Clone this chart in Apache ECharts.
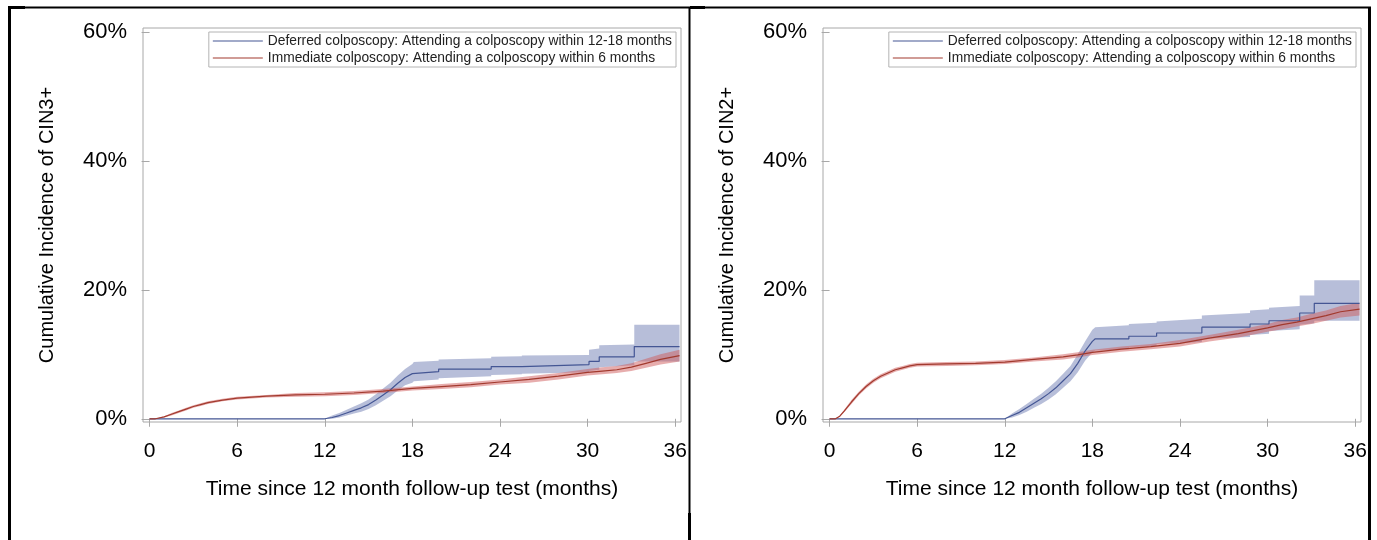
<!DOCTYPE html>
<html>
<head>
<meta charset="utf-8">
<script src="https://cdn.jsdelivr.net/npm/echarts@6/dist/echarts.min.js"></script>
<style>
html, body { margin: 0; padding: 0; background: #fff; }
#chart { width: 1377px; height: 540px; }
</style>
</head>
<body>
<div id="chart"></div>
<script>
// series names
var defName = 'Deferred colposcopy: Attending a colposcopy within 12-18 months';
var immName = 'Immediate colposcopy: Attending a colposcopy within 6 months';

// tick values
var xTicks = [0, 6, 12, 18, 24, 30, 36];
var yTicks = [0, 20, 40, 60];

// left panel: CIN3+, deferred (blue) - repeated times are the vertical steps
var cin3DefT   = [0, 12, 12.5, 13, 13.5, 14, 14.5, 15, 15.5, 16, 16.5, 17, 17.5, 18, 18.1, 19.8, 19.8, 23.4, 23.4, 25.5, 25.5, 30.1, 30.1, 30.8, 30.8, 33.2, 33.2, 36.3];
var cin3DefEst = [0, 0, 0.2, 0.5, 0.9, 1.3, 1.7, 2.2, 2.9, 3.7, 4.5, 5.5, 6.4, 7.0, 7.3, 7.3, 7.7, 7.7, 8.1, 8.1, 8.4, 8.4, 8.9, 8.9, 9.6, 9.6, 11.2, 11.2];
var cin3DefLo  = [0, 0, 0.0, 0.2, 0.5, 0.8, 1.1, 1.5, 2.1, 2.8, 3.5, 4.4, 5.2, 5.6, 5.8, 6.1, 6.3, 6.6, 6.8, 6.9, 7.0, 7.2, 7.4, 7.6, 8.0, 8.3, 8.9, 8.9];
var cin3DefHi  = [0, 0, 0.5, 0.9, 1.4, 1.9, 2.4, 3.0, 3.8, 4.7, 5.6, 6.7, 7.7, 8.5, 8.8, 9.0, 9.2, 9.4, 9.6, 9.7, 9.8, 9.9, 10.7, 10.9, 11.4, 11.5, 14.6, 14.6];

// left panel: CIN3+, immediate (red)
var cin3ImmT   = [0, 0.4, 1, 1.5, 2, 2.5, 3, 3.5, 4, 5, 6, 8, 10, 12, 14, 16, 18, 20, 22, 24, 26, 28, 30, 31, 32, 33, 34, 35, 36.3];
var cin3ImmEst = [0, 0, 0.3, 0.7, 1.1, 1.5, 1.9, 2.2, 2.5, 2.9, 3.2, 3.5, 3.7, 3.8, 4.0, 4.3, 4.7, 5.0, 5.3, 5.7, 6.1, 6.6, 7.2, 7.4, 7.6, 8.0, 8.6, 9.2, 9.8];
var cin3ImmLo  = [0, 0, 0.2, 0.5, 0.9, 1.3, 1.7, 2.0, 2.3, 2.7, 3.0, 3.3, 3.4, 3.5, 3.7, 4.0, 4.4, 4.6, 4.9, 5.3, 5.6, 6.1, 6.7, 6.9, 7.1, 7.4, 7.9, 8.4, 8.9];
var cin3ImmHi  = [0, 0, 0.4, 0.9, 1.3, 1.7, 2.1, 2.4, 2.7, 3.1, 3.4, 3.7, 4.0, 4.1, 4.3, 4.6, 5.0, 5.4, 5.7, 6.1, 6.6, 7.1, 7.7, 8.0, 8.2, 8.6, 9.3, 10.0, 10.7];

// right panel: CIN2+, deferred (blue)
var cin2DefT   = [0, 12, 12.5, 13, 13.5, 14, 14.5, 15, 15.5, 16, 16.5, 17, 17.5, 18, 18.2, 20.5, 20.5, 22.4, 22.4, 25.5, 25.5, 28.8, 28.8, 30.1, 30.1, 32.2, 32.2, 33.2, 33.2, 36.3];
var cin2DefEst = [0, 0, 0.5, 1.0, 1.7, 2.4, 3.1, 3.9, 4.8, 5.9, 7.0, 8.6, 10.5, 12.0, 12.4, 12.4, 12.8, 12.8, 13.3, 13.3, 14.2, 14.2, 14.7, 14.7, 15.2, 15.2, 16.4, 16.4, 17.9, 17.9];
var cin2DefLo  = [0, 0, 0.2, 0.6, 1.1, 1.7, 2.3, 3.0, 3.8, 4.8, 5.8, 7.2, 9.0, 10.3, 10.6, 10.8, 11.1, 11.3, 11.6, 11.9, 12.4, 12.7, 13.0, 13.2, 13.6, 13.9, 14.6, 14.8, 15.2, 15.2];
var cin2DefHi  = [0, 0, 0.8, 1.5, 2.3, 3.1, 3.9, 4.8, 5.8, 7.0, 8.2, 10.0, 12.0, 13.8, 14.2, 14.5, 14.7, 14.9, 15.1, 15.5, 16.0, 16.4, 16.8, 17.0, 17.2, 17.5, 19.1, 19.1, 21.5, 21.5];

// right panel: CIN2+, immediate (red)
var cin2ImmT   = [0, 0.4, 0.7, 1, 1.5, 2, 2.5, 3, 3.5, 4, 4.5, 5, 5.5, 6, 8, 10, 12, 14, 16, 17, 18, 20, 22, 24, 26, 28, 30, 31, 32, 33, 34, 35, 36.3];
var cin2ImmEst = [0, 0, 0.4, 1.2, 2.6, 3.9, 5.0, 5.9, 6.6, 7.1, 7.6, 7.9, 8.2, 8.4, 8.5, 8.6, 8.8, 9.2, 9.6, 9.9, 10.3, 10.8, 11.2, 11.7, 12.5, 13.2, 14.1, 14.6, 15.0, 15.5, 16.0, 16.6, 17.0];
var cin2ImmLo  = [0, 0, 0.3, 1.0, 2.3, 3.6, 4.7, 5.6, 6.3, 6.8, 7.3, 7.6, 7.9, 8.1, 8.2, 8.3, 8.5, 8.9, 9.2, 9.5, 9.9, 10.4, 10.8, 11.2, 12.0, 12.6, 13.5, 13.9, 14.3, 14.7, 15.2, 15.7, 16.0];
var cin2ImmHi  = [0, 0, 0.5, 1.4, 2.9, 4.2, 5.3, 6.2, 6.9, 7.4, 7.9, 8.2, 8.5, 8.7, 8.8, 8.9, 9.1, 9.5, 10.0, 10.3, 10.7, 11.2, 11.6, 12.2, 13.0, 13.8, 14.7, 15.3, 15.7, 16.3, 16.8, 17.5, 18.0];

var blueLine = '#445694';
var blueFill = 'rgba(111,126,179,0.5)';
var redLine = '#A23A2E';
var redFill = 'rgba(208,91,91,0.5)';
var font = 'Liberation Sans, Arial, sans-serif';

function pairs(t, v) {
    return t.map(function (x, i) { return [x, v[i]]; });
}

// confidence band drawn as one polygon through the axis scales
function band(t, lo, hi, fill, idx) {
    return {
        type: 'custom', xAxisIndex: idx, yAxisIndex: idx, silent: true, clip: true,
        data: [[t[0], lo[0]]],
        renderItem: function (params, api) {
            var pts = [];
            for (var i = 0; i < t.length; i++) pts.push(api.coord([t[i], hi[i]]));
            for (var j = t.length - 1; j >= 0; j--) pts.push(api.coord([t[j], lo[j]]));
            return { type: 'polygon', shape: { points: pts }, style: { fill: fill } };
        }
    };
}

function curve(name, t, v, color, idx) {
    return {
        name: name, type: 'line', xAxisIndex: idx, yAxisIndex: idx,
        symbol: 'none', silent: true,
        lineStyle: { color: color, width: 1.2 }, itemStyle: { color: color },
        data: pairs(t, v)
    };
}

function xAxis(idx) {
    return {
        type: 'value', gridIndex: idx, min: -0.45, max: 36.4,
        name: 'Time since 12 month follow-up test (months)',
        nameLocation: 'middle', nameGap: 57,
        nameTextStyle: { fontFamily: font, fontSize: 21, color: '#000' },
        axisLine: { show: false },
        axisTick: { customValues: xTicks, length: 8, lineStyle: { color: '#a8a8a8' } },
        axisLabel: { customValues: xTicks, margin: 19, fontFamily: font, fontSize: 21, color: '#000' },
        splitLine: { show: false }
    };
}

function yAxis(idx, title) {
    return {
        type: 'value', gridIndex: idx, min: -0.5, max: 60.6,
        name: title, nameLocation: 'middle', nameGap: 86,
        nameTextStyle: { fontFamily: font, fontSize: 20, color: '#000' },
        axisLine: { show: false },
        axisTick: { customValues: yTicks, length: 8, lineStyle: { color: '#a8a8a8' } },
        axisLabel: {
            customValues: yTicks, margin: 16, fontFamily: font, fontSize: 22, color: '#000',
            formatter: function (v) { return v + '%'; }
        },
        splitLine: { show: false }
    };
}

function legend(right) {
    return {
        data: [{ name: defName, icon: 'rect' }, { name: immName, icon: 'rect' }],
        orient: 'vertical', right: right, top: 32,
        itemWidth: 50, itemHeight: 1.2, itemGap: 1, padding: [1, 4, 1, 4],
        borderColor: '#b4b4b4', borderWidth: 1, selectedMode: false,
        textStyle: { fontFamily: font, fontSize: 13.8, color: '#222', lineHeight: 16 }
    };
}

function initChart() {
    var myChart = echarts.init(document.getElementById('chart'), null, { renderer: 'canvas' });

    var series = [
        band(cin3DefT, cin3DefLo, cin3DefHi, blueFill, 0),
        band(cin3ImmT, cin3ImmLo, cin3ImmHi, redFill, 0),
        curve(defName, cin3DefT, cin3DefEst, blueLine, 0),
        curve(immName, cin3ImmT, cin3ImmEst, redLine, 0),
        band(cin2DefT, cin2DefLo, cin2DefHi, blueFill, 1),
        band(cin2ImmT, cin2ImmLo, cin2ImmHi, redFill, 1),
        curve(defName, cin2DefT, cin2DefEst, blueLine, 1),
        curve(immName, cin2ImmT, cin2ImmEst, redLine, 1)
    ];

    var option = {
        animation: false,
        backgroundColor: '#fff',
        grid: [
            { left: 143, top: 28, width: 538, height: 394, show: true, borderColor: '#a8a8a8', borderWidth: 1 },
            { left: 823, top: 28, width: 538, height: 394, show: true, borderColor: '#a8a8a8', borderWidth: 1 }
        ],
        xAxis: [xAxis(0), xAxis(1)],
        yAxis: [yAxis(0, 'Cumulative Incidence of CIN3+'), yAxis(1, 'Cumulative Incidence of CIN2+')],
        legend: [legend(701), legend(21)],
        series: series,
        // outer black panel borders
        graphic: [
            { type: 'line', shape: { x1: 8, y1: 7.5, x2: 1371, y2: 7.5 }, style: { stroke: '#000', lineWidth: 2 } },
            { type: 'rect', shape: { x: 8, y: 6, width: 17, height: 3 }, style: { fill: '#000' } },
            { type: 'rect', shape: { x: 690, y: 6, width: 15, height: 3 }, style: { fill: '#000' } },
            { type: 'line', shape: { x1: 9.5, y1: 7, x2: 9.5, y2: 540 }, style: { stroke: '#000', lineWidth: 3 } },
            { type: 'line', shape: { x1: 689.5, y1: 7, x2: 689.5, y2: 540 }, style: { stroke: '#000', lineWidth: 2 } },
            { type: 'rect', shape: { x: 688, y: 513, width: 3, height: 27 }, style: { fill: '#000' } },
            { type: 'line', shape: { x1: 1369.5, y1: 7, x2: 1369.5, y2: 540 }, style: { stroke: '#000', lineWidth: 3 } }
        ]
    };

    myChart.setOption(option);
}

window.addEventListener('load', initChart);
</script>
</body>
</html>
